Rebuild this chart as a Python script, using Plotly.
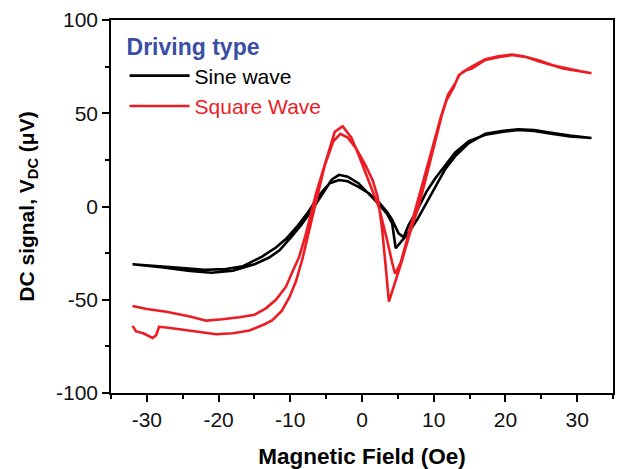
import plotly.graph_objects as go

# ---------------- data ----------------
# Sine-wave driving: sweep up (low -> high field) and sweep back
sine_up_x = [-32, -28, -24, -21, -18, -15, -13, -11.5, -10, -8.5, -7, -5.5, -4.2, -3.2, -2, -0.5,
             1, 2.4, 3.5, 4.2, 4.7, 5.6, 6.5, 7.7, 9, 10.2, 11.6, 13, 14.9, 17.2, 19.5, 21.8,
             24, 26.4, 29, 32]
sine_up_y = [-31, -32.5, -34.5, -35.5, -34.5, -31, -27.5, -23.5, -17, -10, -2, 7, 14.5, 17, 16, 12.5,
             6.5, 1, -4, -9, -22.4, -18, -14, -7, 2, 11, 20, 27, 34, 39, 40.5, 41.4,
             41, 39.5, 38, 36.7]
sine_down_x = [32, 29, 26.4, 24, 21.8, 19.5, 17.2, 14.9, 13, 11.6, 10.2, 9, 7.7, 6.5, 5.8, 5.1,
               4.2, 3.5, 2.4, 1, -0.5, -2, -3.2, -4.5, -6, -7.5, -9, -10.5, -12, -14, -16.6,
               -19, -22, -25, -28, -32]
sine_down_y = [36.7, 37.5, 39, 40.5, 41, 40, 38.5, 35, 29, 22, 15, 8, -2, -10, -16.5, -14.4,
               -7, -3, 2, 7, 10.5, 13.5, 14.2, 12.5, 6, -3, -10.5, -17, -22, -27, -32,
               -33.5, -34, -33, -32, -31]

# Square-wave driving: sweep up and sweep back
square_up_x = [-32, -31.5, -30.5, -29.2, -28.7, -28.3, -27, -25, -22.5, -20.3, -18, -15.7, -13.5,
               -12.5, -11.2, -10.1, -9.2, -8.3, -7.5, -6.4, -5.2, -4, -3, -2, -0.8, 0.5, 1.5,
               2.2, 2.8, 3.3, 3.75, 4.5, 5.6, 6.7, 7.9, 9.1, 10.2, 11.2, 11.8, 12.8, 13.5, 14.5,
               15.3, 17.2, 19, 20.9, 23, 24.5, 26.4, 28.5, 30.5, 32]
square_up_y = [-64, -67, -68, -70.5, -69, -64.5, -65, -66, -67.5, -68.5, -68, -66.5, -63,
               -61, -56, -48.5, -40, -28, -15, 3, 22, 35, 39, 37, 31, 22, 14,
               5, -12, -32, -51, -42, -28.7, -14, 0, 18, 35, 50, 57, 64, 70.5, 73,
               74, 78.6, 80, 81.2, 80, 78, 75.9, 74, 72.5, 71.4]
square_down_x = [32, 30, 28, 26.4, 24.5, 22.5, 20.9, 19, 17.2, 15.3, 14, 13.5, 13, 12, 11, 10,
                 9, 8, 7, 6.2, 5.4, 4.9, 4.6, 4.2, 3.5, 2.4, 1.5, 0.5, -0.5, -1.5, -2.7, -3.8,
                 -5, -6.4, -7.8, -8.75, -9.7, -10.6, -12, -13.4, -15, -17.1, -19.5, -21.7,
                 -24, -27.3, -30, -32]
square_down_y = [71.4, 72.5, 74, 76, 78.5, 80.5, 81.5, 80.5, 79, 75, 72, 70, 66, 60, 48, 34,
                 20, 5, -8, -20, -30, -34, -36, -30, -18, -1, 8, 19, 28, 37, 43, 40,
                 25, 7, -14.4, -26.9, -35, -43, -50, -54.6, -58, -59.4, -60.5, -61.2,
                 -59, -56.4, -55, -53.4]

series_names = ["Sine wave", "Square Wave"]
series_colors = ["#000000", "#ED1C24"]
legend_title = "Driving type"
x_title = "Magnetic Field (Oe)"
y_title = "DC signal, V<sub>DC</sub> (\u03bcV)"
x_tickvals = [-30, -20, -10, 0, 10, 20, 30]
x_ticklabels = ["-30", "-20", "-10", "0", "10", "20", "30"]
y_tickvals = [-100, -50, 0, 50, 100]
y_ticklabels = ["-100", "-50", "0", "50", "100"]

FONT = "Arial, 'Liberation Sans', sans-serif"

fig = go.Figure()
loops = [(sine_up_x + sine_down_x, sine_up_y + sine_down_y),
         (square_up_x + square_down_x, square_up_y + square_down_y)]
for (xs, ys), name, col in zip(loops, series_names, series_colors):
    fig.add_trace(go.Scatter(
        x=xs, y=ys, mode="lines",
        name=f"<span style='color:{col}'>{name}</span>",
        line=dict(color=col, width=2.6),
    ))

axis_common = dict(
    showline=True, linecolor="black", linewidth=1.5, mirror=True,
    ticks="outside", ticklen=7, tickwidth=1.5, tickcolor="black",
    showgrid=False, zeroline=False, automargin=False,
    tickfont=dict(family=FONT, size=21, color="#111111"),
)

fig.update_layout(
    width=627, height=469,
    margin=dict(l=111, r=14, t=20, b=76),
    paper_bgcolor="white", plot_bgcolor="white",
    font=dict(family=FONT, color="black"),
    showlegend=True,
    legend=dict(
        title=dict(text=f"<b>{legend_title}</b>",
                   font=dict(family=FONT, size=23, color="#3A4FA3")),
        x=0.027, y=0.985, xanchor="left", yanchor="top",
        bgcolor="rgba(0,0,0,0)", borderwidth=0,
        font=dict(family=FONT, size=21),
        tracegroupgap=0, itemwidth=60,
    ),
    xaxis=dict(
        range=[-35, 35], tickvals=x_tickvals, ticktext=x_ticklabels,
        minor=dict(dtick=5, ticks="outside", ticklen=4, tickwidth=1.5, tickcolor="black"),
        title=dict(text=f"<b>{x_title}</b>", font=dict(family=FONT, size=22.5, color="black"),
                   standoff=18),
        **axis_common,
    ),
    yaxis=dict(
        range=[-100, 100], tickvals=y_tickvals, ticktext=y_ticklabels,
        minor=dict(dtick=25, ticks="outside", ticklen=4, tickwidth=1.5, tickcolor="black"),
        title=dict(text=f"<b>{y_title}</b>", font=dict(family=FONT, size=21, color="black"),
                   standoff=16),
        **axis_common,
    ),
)

fig.write_html("out.html",
               config={"displayModeBar": False},
               post_script="document.body.style.margin='0';document.body.style.padding='0';")
